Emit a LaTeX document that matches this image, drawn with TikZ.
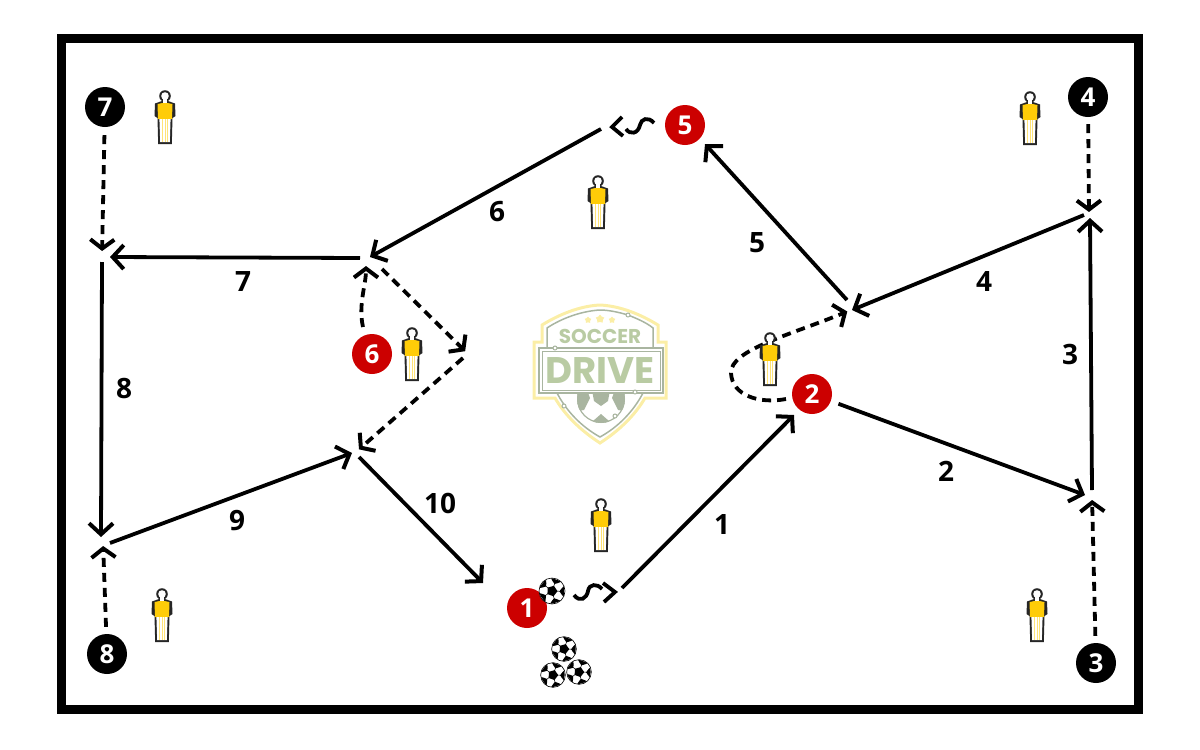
\documentclass[tikz,border=0pt]{standalone}
\usepackage{fontspec}
\setmainfont{Open Sans}
\newfontfamily\logofont{Poppins}
\usetikzlibrary{positioning,shapes,arrows.meta}

\definecolor{cupred}{HTML}{CC0000}
\definecolor{shirt}{HTML}{FFCC08}
\definecolor{logoyellow}{HTML}{FBEEA6}
\definecolor{logogreen}{HTML}{B9CBA3}
\definecolor{logogrey}{HTML}{A9B5A0}

\tikzset{
	redplayer/.style={circle, fill=cupred, text=white, minimum size=40pt, inner sep=0pt, font=\fontsize{26}{26}\selectfont\bfseries},
	blackplayer/.style={circle, fill=black, text=white, minimum size=40pt, inner sep=0pt, font=\fontsize{26}{26}\selectfont\bfseries},
	steplabel/.style={inner sep=0pt, font=\fontsize{28}{28}\selectfont\bfseries},
	solidpass/.style={line width=3.8pt, -{Straight Barb[length=11pt,width=24pt,line width=4pt]}},
	dashedrun/.style={line width=3.8pt, dash pattern=on 9pt off 6pt, -{Straight Barb[length=9pt,width=24pt,line width=4pt,sep=4pt]}},
	chevron/.style={line width=3.8pt},
	dummy/.pic={
		\fill[black!85] (-3,-16) -- (-10,-13.5) -- (-10.5,-1) -- (-7.5,1) -- (-6.8,27) -- (6.8,27) -- (7.5,1) -- (10.5,-1) -- (10,-13.5) -- (3,-16) -- cycle;
		\fill[black!85] (0,-21) circle (5.8);
		\fill[white] (0,-21) circle (3.8);
		\fill[white] (-2.2,-18.5) rectangle (2.2,-14);
		\fill[shirt] (-7.5,-13) -- (-2.5,-14) -- (2.5,-14) -- (7.5,-13) -- (7,2) -- (-7,2) -- cycle;
		\fill[white] (-5.6,2) -- (5.6,2) -- (4.8,25) -- (-4.8,25) -- cycle;
		\fill[shirt!55] (-3,2) rectangle (-2.1,25);
		\fill[shirt!55] (2.1,2) rectangle (3,25);
		\fill[shirt!55] (-.45,2) rectangle (.45,25);
	},
	soccerball/.pic={
		\draw[fill=white, line width=.6pt] (0,0) circle (13);
		\begin{scope}
			\clip (0,0) circle (12.7);
			\foreach \a in {-70,2,74,146,218} {
				\draw[line width=.5pt] (\a:4.5) -- (\a:10);
				\fill[black] (\a-26:13.5) -- (\a-15:9.5) -- (\a:7.5) -- (\a+15:9.5) -- (\a+26:13.5) -- cycle;
			}
		\end{scope}
		\fill[black] (-70:5.5) -- (2:5.5) -- (74:5.5) -- (146:5.5) -- (218:5.5) -- cycle;
	},
}

\begin{document}
\begin{tikzpicture}[x=1pt, y=-1pt]
	\useasboundingbox (0,0) rectangle (1200,750);
	\node[draw, line width=9pt, minimum width=1077pt, minimum height=671pt, inner sep=0pt] (pitch) at (600,374) {};

	% logo
	\draw[logoyellow, line width=3pt] (600,305) .. controls (580,306) and (560,314) .. (542,325) -- (542,342) -- (534,342) -- (534,398) -- (555,398) .. controls (565,415) and (580,430) .. (600,443) .. controls (620,430) and (635,415) .. (645,398) -- (666,398) -- (666,342) -- (658,342) -- (658,325) .. controls (640,314) and (620,306) .. (600,305);
	\draw[logogrey, line width=1.5pt] (628,315) .. controls (618,312) and (608,310) .. (600,310) .. controls (582,311) and (562,318) .. (547,328) -- (547,348);
	\draw[logogrey, line width=1.5pt] (653,348) -- (653,328) .. controls (647,323) and (638,319) .. (628,315);
	\begin{scope}
		\clip (601,399) circle (24);
		\fill[white] (601,399) circle (24);
		\fill[logogrey] (570,390) -- (587,390) -- (590,398) -- (584,410) -- (570,412) -- cycle;
		\fill[logogrey] (632,390) -- (615,390) -- (612,398) -- (618,410) -- (632,412) -- cycle;
		\fill[logogrey] (592,390) -- (610,390) -- (608,401) -- (601,406) -- (594,401) -- cycle;
		\fill[logogrey] (601,414) -- (609,421) -- (607,425) -- (595,425) -- (593,421) -- cycle;
	\end{scope}
	\draw[logogrey, line width=1.2pt] (601,399) circle (23.4);
	\draw[logogrey, line width=1.5pt] (557,393) .. controls (567,412) and (582,427) .. (600,437) .. controls (618,427) and (633,412) .. (643,393);
	\draw[logogrey, line width=1.5pt, fill=white] (539,348) rectangle (663,393);
	\draw[logogrey, line width=1pt] (542,351) rectangle (660,390);
	\node[inner sep=0pt, text=logogreen, font=\logofont\fontsize{20}{20}\selectfont\bfseries] (soccerword) at (600,336) {SOCCER};
	\node[inner sep=0pt, text=logogreen, font=\logofont\fontsize{37}{37}\selectfont\bfseries] (driveword) at (600,371) {DRIVE};
	\node[star, star points=5, fill=logoyellow, inner sep=0pt, minimum size=7pt] (star1) at (588,320) {};
	\node[star, star points=5, fill=logoyellow, inner sep=0pt, minimum size=9pt] (star2) at (600,319) {};
	\node[star, star points=5, fill=logoyellow, inner sep=0pt, minimum size=7pt] (star3) at (612,320) {};
	\draw[logogrey, line width=1pt, fill=white] (628,315) circle (2);
	\draw[logogrey, line width=1pt, fill=white] (555,348) circle (2);
	\draw[logogrey, line width=1pt, fill=white] (635,392) circle (2);
	\draw[logogrey, line width=1pt, fill=white] (564,406) circle (2);
	\draw[logogrey, line width=1pt, fill=white] (615,416) circle (2);

	% players
	\node[redplayer] (R1) at (527,608) {1};
	\node[redplayer] (R2) at (812,394) {2};
	\node[redplayer] (R5) at (685,125) {5};
	\node[redplayer] (R6) at (372,354) {6};
	\node[blackplayer] (B3) at (1096,663) {3};
	\node[blackplayer] (B4) at (1088,97) {4};
	\node[blackplayer] (B7) at (105,107) {7};
	\node[blackplayer] (B8) at (107,654) {8};

	% balls
	\pic (b1) at (552,591) {soccerball};
	\pic[scale=.95] (b2) at (564,649) {soccerball};
	\pic[scale=.95] (b3) at (553,675) {soccerball};
	\pic[scale=.95] (b4) at (579,672) {soccerball};

	% corners of the pattern
	\coordinate (S1) at (622,588);
	\coordinate (E1) at (794,415);
	\coordinate (E2) at (1085,495);
	\coordinate (S3) at (1092,490);
	\coordinate (E3) at (1090,218);
	\coordinate (S4) at (1084,215);
	\coordinate (E4) at (852,310);
	\coordinate (S5) at (847,300);
	\coordinate (E5) at (705,144);
	\coordinate (S6) at (601,129);
	\coordinate (E6) at (370,257);
	\coordinate (S7) at (360,258);
	\coordinate (E7) at (110,257);
	\coordinate (S8) at (102,262);
	\coordinate (E8) at (101,537);
	\coordinate (S9) at (110,543);
	\coordinate (E9) at (352,453);
	\coordinate (S10) at (359,457);
	\coordinate (E10) at (483,583);
	\coordinate (C3) at (1092,496);
	\coordinate (C4) at (1089,216);
	\coordinate (C7) at (102,255);
	\coordinate (C8) at (103,542);
	\coordinate (C6) at (366,262);
	\coordinate (D6) at (382,269);
	\coordinate (C6b) at (468,354);
	\coordinate (D6b) at (463,358);
	\coordinate (C6c) at (356,452);
	\coordinate (C2) at (851,310);

	% passes
	\draw[solidpass] (S1) -- (E1);
	\draw[solidpass, shorten <=8pt] (R2) -- (E2);
	\draw[solidpass] (S3) -- (E3);
	\draw[solidpass] (S4) -- (E4);
	\draw[solidpass] (S5) -- (E5);
	\draw[solidpass] (S6) -- (E6);
	\draw[solidpass] (S7) -- (E7);
	\draw[solidpass] (S8) -- (E8);
	\draw[solidpass] (S9) -- (E9);
	\draw[solidpass] (S10) -- (E10);

	% runs
	\draw[dashedrun, shorten <=7pt] (B3) -- (C3);
	\draw[dashedrun, shorten <=7pt] (B4) -- (C4);
	\draw[dashedrun, shorten <=8pt] (B7) -- (C7);
	\draw[dashedrun, shorten <=7pt] (B8) -- (C8);
	\draw[dashedrun] (363,327) .. controls (358,305) and (366,285) .. (C6);
	\draw[dashedrun] (D6) -- (C6b);
	\draw[dashedrun] (D6b) -- (C6c);
	\draw[dashedrun] (786,399) .. controls (760,404) and (732,396) .. (731,373) .. controls (730,350) and (790,335) .. (C2);

	% dribbles
	\draw[chevron] (574,595) .. controls (580,603) and (587,598) .. (588,591) .. controls (589,584) and (597,583) .. (602,589);
	\draw[chevron] (603,583) -- (615,592) -- (604,602);
	\draw[chevron] (654,123) .. controls (648,116) and (641,119) .. (640,125) .. controls (638,134) and (630,135) .. (626,129);
	\draw[chevron] (622,117) -- (612,127) -- (623,136);

	% mannequins
	\pic (d1) at (165,117) {dummy};
	\pic (d2) at (598,202) {dummy};
	\pic (d3) at (1030,118) {dummy};
	\pic (d4) at (770,359) {dummy};
	\pic (d5) at (412,354) {dummy};
	\pic (d6) at (601,525) {dummy};
	\pic (d7) at (162,615) {dummy};
	\pic (d8) at (1037,615) {dummy};

	% numbers
	\node[steplabel] (L1) at (722,524) {1};
	\node[steplabel] (L2) at (946,471) {2};
	\node[steplabel] (L3) at (1070,354) {3};
	\node[steplabel] (L4) at (984,282) {4};
	\node[steplabel] (L5) at (757,243) {5};
	\node[steplabel] (L6) at (497,212) {6};
	\node[steplabel] (L7) at (243,282) {7};
	\node[steplabel] (L8) at (124,389) {8};
	\node[steplabel] (L9) at (237,521) {9};
	\node[steplabel] (L10) at (440,503) {10};
\end{tikzpicture}
\end{document}
